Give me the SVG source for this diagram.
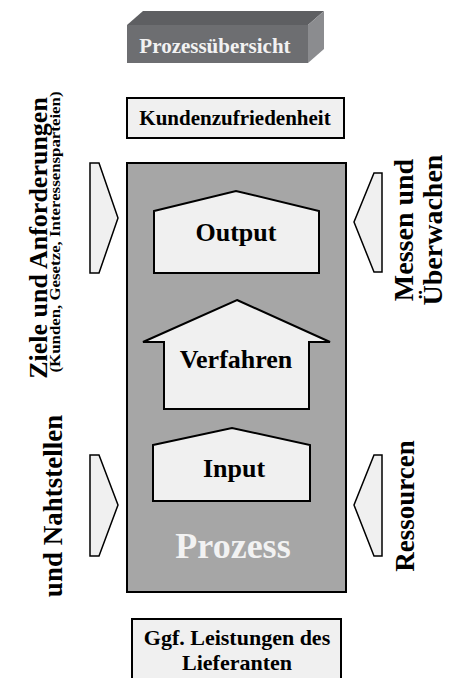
<svg xmlns="http://www.w3.org/2000/svg" width="450" height="678" viewBox="0 0 450 678">
<style>
text{font-family:"Liberation Serif","Times New Roman",serif;font-weight:bold;}
.dark{fill:#000;}
.light{fill:#f0f0f0;stroke:#000;stroke-width:2;stroke-linejoin:miter;}
.chev{fill:#f0f0f0;stroke:#000;stroke-width:1.5;}
.c{text-anchor:middle;}
</style>
<rect width="450" height="678" fill="#fff"/>

<g id="title">
<polygon points="127,25 143,11 324,11 308,25" fill="#5e5f62"/>
<polygon points="308,25 324,11 324,49 308,63" fill="#8b8c8f"/>
<rect x="127" y="25" width="181" height="38" fill="#6d6e71"/>
<text x="215" y="53" class="c" font-size="21" fill="#f2f2f2">Prozessübersicht</text>
</g>

<g id="kundenzufriedenheit">
<rect x="127" y="98" width="217" height="40" class="light"/>
<text x="235" y="125" class="c dark" font-size="21">Kundenzufriedenheit</text>
</g>

<g id="prozess">
<rect x="127" y="163" width="219" height="429" fill="#a6a6a6" stroke="#000" stroke-width="2"/>
<text x="233" y="558" class="c" font-size="36" fill="#f2f2f2">Prozess</text>
</g>

<g id="output">
<polygon points="154,211 236,191 319,211 319,273 154,273" class="light"/>
<text x="236" y="241" class="c dark" font-size="26">Output</text>
</g>

<g id="verfahren">
<polygon points="237,300 330,342 309,342 309,409 164,409 164,342 143,342" class="light"/>
<text x="236" y="368" class="c dark" font-size="26">Verfahren</text>
</g>

<g id="input">
<polygon points="153,445 232,428 310,445 310,501 153,501" class="light"/>
<text x="234" y="477" class="c dark" font-size="26">Input</text>
</g>

<g id="lieferanten">
<rect x="132" y="619" width="209" height="62" class="light"/>
<text x="237" y="645" class="c dark" font-size="22">Ggf. Leistungen des</text>
<text x="237" y="670" class="c dark" font-size="22">Lieferanten</text>
</g>

<g id="ziele">
<text transform="translate(47,238) rotate(-90)" class="c dark" font-size="26">Ziele und Anforderungen</text>
<text transform="translate(60,232) rotate(-90)" class="c dark" font-size="14" textLength="281" lengthAdjust="spacingAndGlyphs">(Kunden, Gesetze, Interessensparteien)</text>
<text transform="translate(62,506) rotate(-90)" class="c dark" font-size="27">und Nahtstellen</text>
</g>

<g id="messen">
<text transform="translate(413,230) rotate(-90)" class="c dark" font-size="28">Messen und</text>
<text transform="translate(442,230) rotate(-90)" class="c dark" font-size="28">Überwachen</text>
</g>

<g id="ressourcen">
<text transform="translate(414,506) rotate(-90)" class="c dark" font-size="27">Ressourcen</text>
</g>

<g id="connectors">
<polygon points="90,163 99,163 118,218 99,273 90,273" class="chev"/>
<polygon points="90,455 99,455 118,505 99,556 90,556" class="chev"/>
<polygon points="382,173 374,173 354,222 374,272 382,272" class="chev"/>
<polygon points="382,455 374,455 354,505 374,556 382,556" class="chev"/>
</g>
</svg>
